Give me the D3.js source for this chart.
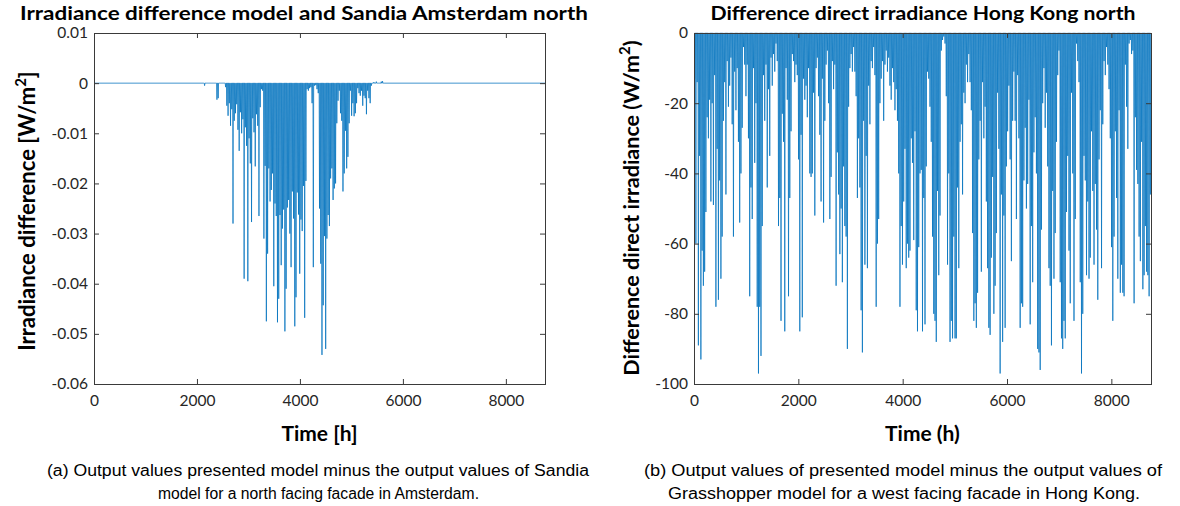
<!DOCTYPE html>
<html>
<head>
<meta charset="utf-8">
<script src="https://cdn.jsdelivr.net/npm/d3@7"></script>
<style>
  html, body { margin: 0; padding: 0; background: #fff; }
  svg { display: block; }
  .tick text { font-family: Lato, "Open Sans", sans-serif; font-size: 15.5px; fill: #262626; }
</style>
</head>
<body>
<svg id="chart" width="1180" height="506"></svg>
<script>
// ---------- Data ----------
// Amsterdam north facade: daily extreme of (model - Sandia) irradiance difference, W/m2,
// starting at day amsStartDay of the year (hour = day * 24).
const amsStartDay = 88;
const amsDaily = [
  0, -0.0005, 0, 0, 0, 0, 0, 0, 0, 0, 0, -0.0033, -0.0030, 0, 0, 0, 0, 0,
  -0.0008, -0.0045, -0.0065, -0.0040, -0.0085, -0.0052, -0.0280, -0.0075, -0.0060, -0.0042,
  -0.0093, -0.0135, -0.0058, -0.0100, -0.0072, -0.0390, -0.0088, -0.0125, -0.0395, -0.0110,
  -0.0160, -0.0277, -0.0070, -0.0098, -0.0166, -0.0062, -0.0085, -0.0265, -0.0048, -0.0012,
  -0.0015, -0.0310, -0.0165, -0.0475, -0.0340, -0.0170, -0.0236, -0.0213, -0.0180, -0.0405,
  -0.0240, -0.0265, -0.0477, -0.0430, -0.0263, -0.0363, -0.0290, -0.0252, -0.0495, -0.0410,
  -0.0248, -0.0233, -0.0300, -0.0367, -0.0216, -0.0270, -0.0485, -0.0427, -0.0218, -0.0262,
  -0.0380, -0.0272, -0.0295, -0.0205, -0.0468, -0.0195, -0.0012, -0.0015, -0.0010, -0.0008,
  -0.0040, -0.0367, -0.0005, -0.0004, -0.0012, -0.0020, -0.0250, -0.0360, -0.0542, -0.0443,
  -0.0305, -0.0530, -0.0310, -0.0263, -0.0285, -0.0190, -0.0170, -0.0233, -0.0210, -0.0200,
  -0.0080, -0.0035, -0.0015, -0.0060, -0.0075, -0.0216, -0.0180, -0.0095, -0.0170, -0.0147,
  -0.0080, -0.0015, -0.0065, -0.0040, -0.0066, -0.0060, -0.0040, -0.0010, -0.0020, -0.0025,
  -0.0015, -0.0045, -0.0025, -0.0030, -0.0062, -0.0015, -0.0030, -0.0040, -0.0005, 0,
  0.0002, 0, 0.0003, 0, 0, 0, 0.0003, 0.0004, 0
];

// Hong Kong north facade: daily extreme of the direct irradiance difference, W/m2, days 0..364.
const hkDaily = [
  -13, -60, -14, -89, -35, -93, -62, -72, -68, -51, -24, -30, -19, -48, -20, -49, -12, -78, -33, -76,
  -42, -70, -58, -25, -14, -46, -8, -21, -15, -7, -26, -58, -11, -22, -10, -31, -54, -40, -27, -4,
  -9, -18, -9, -30, -75, -44, -53, -10, -37, -20, -78, -97, -78, -92, -55, -12, -25, -9, -44, -16,
  -35, -7, -15, -6, -11, -3, -8, -55, -47, -82, -23, -31, -85, -10, -19, -75, -47, -28, -6, -8,
  -14, -9, -12, -36, -85, -29, -81, -13, -19, -15, -24, -10, -40, -41, -40, -17, -52, -10, -7, -18,
  -29, -48, -13, -54, -25, -9, -5, -20, -53, -41, -8, -16, -9, -72, -34, -46, -63, -50, -71, -38,
  -55, -58, -90, -21, -10, -6, -11, -4, -11, -18, -47, -30, -44, -79, -91, -25, -66, -35, -67, -15,
  -26, -8, -10, -4, -12, -78, -60, -53, -20, -13, -8, -25, -9, -5, -11, -7, -15, -19, -10, -14,
  -22, -16, -25, -40, -78, -55, -66, -48, -33, -67, -60, -64, -62, -30, -37, -59, -28, -79, -85, -61,
  -40, -39, -85, -47, -83, -38, -11, -13, -21, -31, -58, -80, -82, -88, -45, -69, -52, -5, -2, -1,
  -3, -18, -66, -40, -88, -82, -87, -58, -87, -87, -44, -67, -31, -26, -46, -17, -20, -9, -14, -6,
  -14, -22, -57, -82, -77, -84, -74, -36, -25, -68, -14, -30, -21, -48, -67, -84, -86, -64, -41, -80,
  -72, -57, -17, -33, -97, -46, -88, -52, -84, -38, -28, -15, -36, -65, -25, -11, -25, -53, -12, -30,
  -84, -77, -78, -42, -27, -50, -43, -19, -83, -55, -71, -34, -24, -40, -90, -91, -96, -56, -20, -10,
  -27, -17, -38, -67, -72, -89, -45, -70, -57, -31, -12, -5, -71, -87, -90, -82, -87, -51, -35, -62,
  -77, -17, -40, -82, -53, -3, -8, -14, -71, -97, -80, -35, -42, -69, -48, -70, -64, -28, -45, -66,
  -43, -56, -76, -36, -22, -67, -26, -8, -12, -4, -9, -16, -30, -61, -82, -58, -28, -47, -70, -22,
  -74, -66, -74, -75, -9, -21, -33, -3, -2, -6, -5, -77, -24, -39, -43, -58, -65, -31, -73, -69,
  -55, -68, -69, -75, -46
];

const hoursInYear = 8760;
const xTicks = [0, 2000, 4000, 6000, 8000];
const amsYTicks = [0.01, 0, -0.01, -0.02, -0.03, -0.04, -0.05, -0.06];
const amsYLabels = ["0.01", "0", "-0.01", "-0.02", "-0.03", "-0.04", "-0.05", "-0.06"];
const hkYTicks = [0, -20, -40, -60, -80, -100];
const hkYLabels = ["0", "-20", "-40", "-60", "-80", "-100"];

// Turn daily extremes into an hourly-style trace: baseline, spike, baseline.
function spikeSeries(startDay, values) {
  const pts = [[0, 0]];
  values.forEach((v, i) => {
    const h = (startDay + i) * 24;
    pts.push([h + 5, 0], [h + 12, v], [h + 19, 0]);
  });
  pts.push([hoursInYear, 0]);
  return pts;
}

const svg = d3.select("#chart");
const lineColor = "#0072BD";
const axisColor = "#3a3a3a";

function drawPanel(cfg) {
  const { left, right, top, bottom } = cfg.box;
  const x = d3.scaleLinear().domain([0, hoursInYear]).range([left, right]);
  const y = d3.scaleLinear().domain(cfg.yDomain).range([bottom, top]);
  const g = svg.append("g");

  const clipId = "clip-" + cfg.id;
  svg.append("clipPath").attr("id", clipId)
    .append("rect").attr("x", left).attr("y", top - 1)
    .attr("width", right - left).attr("height", bottom - top + 1);

  // data trace
  const line = d3.line().x(d => x(d[0])).y(d => y(d[1]));
  g.append("path")
    .datum(cfg.series)
    .attr("clip-path", `url(#${clipId})`)
    .attr("fill", "none")
    .attr("stroke", lineColor)
    .attr("stroke-width", 0.75)
    .attr("stroke-linejoin", "miter")
    .attr("d", line);

  // axes: labelled bottom/left, tick-only top/right
  const ax = (gen) => gen.tickSizeInner(-5).tickSizeOuter(0);
  const bottomAxis = g.append("g").attr("transform", `translate(0,${bottom})`)
    .call(ax(d3.axisBottom(x)).tickValues(xTicks).tickFormat(d3.format("d")).tickPadding(11));
  const leftAxis = g.append("g").attr("transform", `translate(${left},0)`)
    .call(ax(d3.axisLeft(y)).tickValues(cfg.yTicks)
      .tickFormat((d, i) => cfg.yLabels[i]).tickPadding(6));
  const topAxis = g.append("g").attr("transform", `translate(0,${top})`)
    .call(ax(d3.axisTop(x)).tickValues(xTicks).tickFormat(""));
  const rightAxis = g.append("g").attr("transform", `translate(${right},0)`)
    .call(ax(d3.axisRight(y)).tickValues(cfg.yTicks).tickFormat(""));
  [bottomAxis, leftAxis, topAxis, rightAxis].forEach(a => {
    a.select(".domain").remove();
    a.selectAll(".tick line").attr("stroke", axisColor).attr("stroke-width", 1);
  });
  // hide ticks that sit on the frame corners
  leftAxis.selectAll(".tick line").filter(d => d === cfg.yDomain[0] || d === cfg.yDomain[1]).remove();
  rightAxis.selectAll(".tick line").filter(d => d === cfg.yDomain[0] || d === cfg.yDomain[1]).remove();
  bottomAxis.selectAll(".tick line").filter(d => d === 0).remove();
  topAxis.selectAll(".tick line").filter(d => d === 0).remove();

  // frame
  g.append("rect")
    .attr("x", left + 0.5).attr("y", top + 0.5)
    .attr("width", right - left).attr("height", bottom - top)
    .attr("fill", "none").attr("stroke", axisColor).attr("stroke-width", 1);

  // title
  g.append("text")
    .attr("x", cfg.titleX).attr("y", 20)
    .attr("text-anchor", "middle")
    .attr("font-family", "Lato, sans-serif").attr("font-weight", "bold")
    .attr("font-size", 18.5).attr("fill", "#000")
    .attr("textLength", cfg.titleLen).attr("lengthAdjust", "spacingAndGlyphs")
    .text(cfg.title);

  // x label
  g.append("text")
    .attr("x", (left + right) / 2).attr("y", 441)
    .attr("text-anchor", "middle")
    .attr("font-family", "Lato, sans-serif").attr("font-weight", "bold")
    .attr("font-size", 21).attr("fill", "#000")
    .text(cfg.xLabel);

  // y label (with superscript 2)
  const yl = g.append("text")
    .attr("transform", `translate(${cfg.yLabelX},${cfg.yLabelY}) rotate(-90)`)
    .attr("text-anchor", "middle")
    .attr("font-family", "Lato, sans-serif").attr("font-weight", "bold")
    .attr("font-size", cfg.yLabelSize).attr("fill", "#000");
  yl.append("tspan").text(cfg.yLabel[0]);
  yl.append("tspan").attr("dy", -9).attr("font-size", 15).text("2");
  yl.append("tspan").attr("dy", 9).text(cfg.yLabel[1]);

  // caption
  cfg.caption.forEach((c, i) => {
    svg.append("text")
      .attr("x", c.x).attr("y", 476 + i * 23)
      .attr("font-family", "'Liberation Sans Narrow', 'Liberation Sans', Arial, sans-serif")
      .attr("font-size", 16).attr("fill", "#000")
      .attr("textLength", c.len).attr("lengthAdjust", "spacingAndGlyphs")
      .text(c.text);
  });
}

drawPanel({
  id: "ams",
  box: { left: 94, right: 545, top: 33, bottom: 384 },
  yDomain: [-0.06, 0.01],
  yTicks: amsYTicks, yLabels: amsYLabels,
  series: spikeSeries(amsStartDay, amsDaily),
  title: "Irradiance difference model and Sandia Amsterdam north",
  titleX: 304, titleLen: 568,
  xLabel: "Time [h]",
  yLabel: ["Irradiance difference [W/m", "]"], yLabelX: 35, yLabelY: 211, yLabelSize: 22,
  caption: [
    { x: 47, len: 542, text: "(a) Output values presented model minus the output values of Sandia" },
    { x: 158, len: 321, text: "model for a north facing facade in Amsterdam." }
  ]
});

drawPanel({
  id: "hk",
  box: { left: 694, right: 1151, top: 33, bottom: 384 },
  yDomain: [-100, 0],
  yTicks: hkYTicks, yLabels: hkYLabels,
  series: spikeSeries(0, hkDaily),
  title: "Difference direct irradiance Hong Kong north",
  titleX: 923, titleLen: 425,
  xLabel: "Time (h)",
  yLabel: ["Difference direct irradiance (W/m", ")"], yLabelX: 639, yLabelY: 208, yLabelSize: 21.5,
  caption: [
    { x: 644, len: 518, text: "(b) Output values of presented model minus the output values of" },
    { x: 668, len: 472, text: "Grasshopper model for a west facing facade in Hong Kong." }
  ]
});
</script>
</body>
</html>
